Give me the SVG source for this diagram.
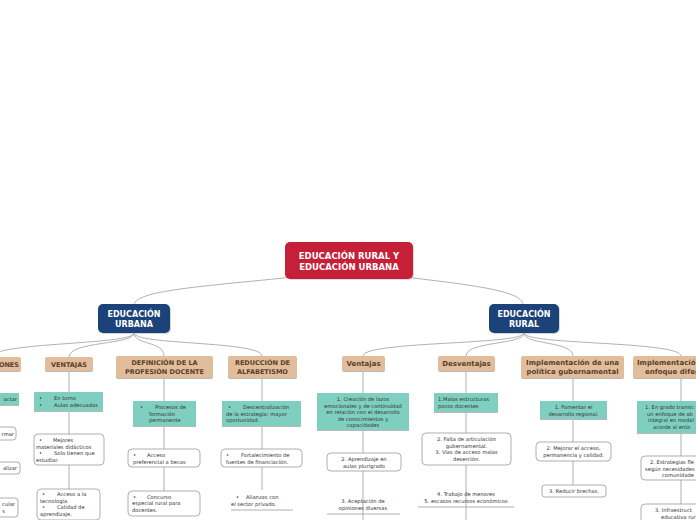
<svg xmlns="http://www.w3.org/2000/svg" width="696" height="520" viewBox="0 0 696 520">
<style>
text{font-family:"DejaVu Sans","Verdana",sans-serif;fill:#333}
.b{font-size:5.2px}
.c{text-anchor:middle}
.e{text-anchor:end}
.h{font-size:6.5px;font-weight:bold;fill:#5a3f2c}
.hl{font-size:7px;font-weight:bold;fill:#5a3f2c}
.w{font-weight:bold;fill:#fff}
.tan{fill:#e2bd9c}
.teal{fill:#7fcfc0}
.wb{fill:#fff;stroke:#999;stroke-width:0.8}
.sh{fill:#b9b9b9}
.ln{fill:none;stroke:#a8a8a8;stroke-width:0.9}
.ul{stroke:#999;stroke-width:0.8}
</style>
<rect width="696" height="520" fill="#fff"/>
<g id="connectors">
<path class="ln" d="M349,271 C220,286 136,288 134,305" stroke-width="1.6" stroke="#aaa"/>
<path class="ln" d="M349,271 C470,284 523,290 523,305" stroke-width="1.6" stroke="#aaa"/>
<path class="ln" d="M134,333 C134,345 -8,342 -8,357"/>
<path class="ln" d="M134,333 C134,345 69,341 69,357"/>
<path class="ln" d="M134,333 C134,345 164,341 164,356"/>
<path class="ln" d="M134,333 C134,345 262,341 262,356"/>
<path class="ln" d="M524,333 C524,345 363,341 363,356"/>
<path class="ln" d="M524,333 C524,345 466,341 466,356"/>
<path class="ln" d="M524,333 C524,345 573,341 573,356"/>
<path class="ln" d="M524,333 C524,345 681,341 681,356"/>
<path class="ln" d="M69,371 V489"/>
<path class="ln" d="M164,378 V491"/>
<path class="ln" d="M262,378 V490"/>
<path class="ln" d="M363,371 V520"/>
<path class="ln" d="M466,371 V520"/>
<path class="ln" d="M573,378 V485"/>
<path class="ln" d="M681,378 V504"/>
</g>
<g id="root">
<rect x="286" y="243" width="128" height="37" rx="5" class="sh" opacity="0.5"/>
<rect x="285" y="242" width="128" height="37" rx="5" fill="#c61f38"/>
<text class="w c" x="349" y="258.5" font-size="8.5">EDUCACIÓN RURAL Y</text>
<text class="w c" x="349" y="269.5" font-size="8.5">EDUCACIÓN URBANA</text>
</g>
<g id="urbana">
<rect x="99" y="305" width="72" height="29" rx="5" class="sh" opacity="0.6"/>
<rect x="98" y="304" width="72" height="29" rx="5" fill="#1b4279"/>
<text class="w c" x="134" y="316.5" font-size="8">EDUCACIÓN</text>
<text class="w c" x="134" y="327" font-size="8">URBANA</text>
</g>
<g id="rural">
<rect x="490" y="305" width="70" height="29" rx="5" class="sh" opacity="0.6"/>
<rect x="489" y="304" width="70" height="29" rx="5" fill="#1b4279"/>
<text class="w c" x="524" y="316.5" font-size="8">EDUCACIÓN</text>
<text class="w c" x="524" y="327" font-size="8">RURAL</text>
</g>
<g id="col-ones">
<rect x="-80" y="358" width="101" height="14" rx="2" class="sh"/>
<rect x="-80" y="357" width="101" height="14" rx="2" class="tan"/>
<text class="h e" x="19" y="366.5">ONES</text>
<rect x="-50" y="394" width="69" height="12" class="sh"/>
<rect x="-50" y="393" width="69" height="12" class="teal"/>
<text class="b e" x="17" y="401">actar</text>
<rect x="-50" y="427" width="66" height="13" rx="3" class="wb"/>
<text class="b e" x="14" y="435.5">rmar</text>
<rect x="-50" y="462" width="70" height="12" rx="3" class="wb"/>
<text class="b e" x="17" y="470">alizar</text>
<rect x="-50" y="498" width="68" height="19" rx="3" class="wb"/>
<text class="b e" x="15" y="506">cular</text>
<text class="b e" x="5" y="512.5">s</text>
</g>
<g id="col-ventajas-u">
<rect x="45" y="358" width="48" height="14" rx="2" class="sh"/>
<rect x="45" y="357" width="48" height="14" rx="2" class="tan"/>
<text class="h c" x="69" y="366.5">VENTAJAS</text>
<rect x="34" y="393" width="69" height="19" class="sh"/>
<rect x="34" y="392" width="69" height="19" class="teal"/>
<text class="b"><tspan x="39" y="400">•</tspan><tspan x="54" y="400">En torno</tspan><tspan x="39" y="406.5">•</tspan><tspan x="54" y="406.5">Aulas adecuadas</tspan></text>
<rect x="34" y="434" width="70" height="31" rx="4" class="wb"/>
<text class="b"><tspan x="39" y="442">•</tspan><tspan x="53" y="442">Mejores</tspan><tspan x="36" y="448.5">materiales didácticos</tspan><tspan x="39" y="455">•</tspan><tspan x="54" y="455">Solo tienen que</tspan><tspan x="36" y="461.5">estudiar.</tspan></text>
<rect x="37" y="489" width="63" height="31" rx="4" class="wb"/>
<text class="b"><tspan x="42" y="496">•</tspan><tspan x="57" y="496">Acceso a la</tspan><tspan x="40" y="502.5">tecnología</tspan><tspan x="42" y="509">•</tspan><tspan x="57" y="509">Calidad de</tspan><tspan x="40" y="515.5">aprendizaje.</tspan></text>
</g>
<g id="col-definicion">
<rect x="116" y="357" width="97" height="22" rx="2" class="sh"/>
<rect x="116" y="356" width="97" height="22" rx="2" class="tan"/>
<text class="h c" x="164.5" y="365">DEFINICIÓN DE LA</text>
<text class="h c" x="164.5" y="374">PROFESIÓN DOCENTE</text>
<rect x="133" y="402" width="63" height="25" class="sh"/>
<rect x="133" y="401" width="63" height="25" class="teal"/>
<text class="b"><tspan x="140" y="409">•</tspan><tspan x="155" y="409">Procesos de</tspan><tspan x="149" y="415.5">formación</tspan><tspan x="149" y="422">permanente</tspan></text>
<rect x="128" y="449" width="72" height="18" rx="4" class="wb"/>
<text class="b"><tspan x="133" y="457">•</tspan><tspan x="147" y="457">Acceso</tspan><tspan x="133" y="463.5">preferencial a becas</tspan></text>
<rect x="128" y="491" width="72" height="25" rx="4" class="wb"/>
<text class="b"><tspan x="133" y="498.5">•</tspan><tspan x="147" y="498.5">Concurso</tspan><tspan x="132" y="505">especial rural para</tspan><tspan x="132" y="511.5">docentes.</tspan></text>
</g>
<g id="col-reduccion">
<rect x="228" y="357" width="69" height="22" rx="2" class="sh"/>
<rect x="228" y="356" width="69" height="22" rx="2" class="tan"/>
<text class="h c" x="262.5" y="365">REDUCCIÓN DE</text>
<text class="h c" x="262.5" y="374">ALFABETISMO</text>
<rect x="222" y="402" width="79" height="25" class="sh"/>
<rect x="222" y="401" width="79" height="25" class="teal"/>
<text class="b"><tspan x="228" y="409">•</tspan><tspan x="243" y="409">Descentralización</tspan><tspan x="226" y="415.5">de la estrategia: mayor</tspan><tspan x="226" y="422">oportunidad.</tspan></text>
<rect x="221" y="449" width="81" height="18" rx="4" class="wb"/>
<text class="b"><tspan x="226" y="457">•</tspan><tspan x="241" y="457">Fortalecimiento de</tspan><tspan x="226" y="463.5">fuentes de financiación.</tspan></text>
<text class="b"><tspan x="236" y="499">•</tspan><tspan x="246" y="499">Alianzas con</tspan><tspan x="231" y="505.5">el sector privado.</tspan></text>
<line class="ul" x1="231" y1="510" x2="293" y2="510"/>
</g>
<g id="col-ventajas-r">
<rect x="342" y="357" width="43" height="15" rx="2" class="sh"/>
<rect x="342" y="356" width="43" height="15" rx="2" class="tan"/>
<text class="hl c" x="363.5" y="366">Ventajas</text>
<rect x="317" y="394" width="92" height="37" class="sh"/>
<rect x="317" y="393" width="92" height="37" class="teal"/>
<text class="b c"><tspan x="363" y="401">1. Creación de lazos</tspan><tspan x="363" y="407.5">emocionales y de continuidad</tspan><tspan x="363" y="414">en relación con el desarrollo</tspan><tspan x="363" y="420.5">de conocimientos y</tspan><tspan x="363" y="427">capacidades</tspan></text>
<rect x="327" y="453" width="74" height="18" rx="4" class="wb"/>
<text class="b c"><tspan x="364" y="461">2. Aprendizaje en</tspan><tspan x="364" y="467.5">aulas plurigrado</tspan></text>
<text class="b c"><tspan x="363" y="503">3. Aceptación de</tspan><tspan x="363" y="509.5">opiniones diversas</tspan></text>
<line class="ul" x1="327" y1="514" x2="400" y2="514"/>
</g>
<g id="col-desventajas">
<rect x="438" y="357" width="57" height="15" rx="2" class="sh"/>
<rect x="438" y="356" width="57" height="15" rx="2" class="tan"/>
<text class="hl c" x="466.5" y="366">Desventajas</text>
<rect x="434" y="394" width="64" height="19" class="sh"/>
<rect x="434" y="393" width="64" height="19" class="teal"/>
<text class="b"><tspan x="438" y="401">1.Malas estructuras</tspan><tspan x="438" y="407.5">pocos docentes</tspan></text>
<rect x="422" y="433" width="89" height="32" rx="4" class="wb"/>
<text class="b c"><tspan x="466.5" y="441">2. Falta de articulación</tspan><tspan x="466.5" y="447.5">gubernamental.</tspan><tspan x="466.5" y="454">3. Vías de acceso malas</tspan><tspan x="466.5" y="460.5">deserción.</tspan></text>
<text class="b c"><tspan x="466" y="496">4. Trabajo de menores</tspan><tspan x="466" y="502.5">5. escasos recursos económicos</tspan></text>
<line class="ul" x1="418" y1="507" x2="514" y2="507"/>
</g>
<g id="col-implementacion">
<rect x="521" y="357" width="103" height="22" rx="2" class="sh"/>
<rect x="521" y="356" width="103" height="22" rx="2" class="tan"/>
<text class="hl c" x="572.5" y="365">Implementación de una</text>
<text class="hl c" x="572.5" y="374">política gubernamental</text>
<rect x="540" y="402" width="67" height="18" class="sh"/>
<rect x="540" y="401" width="67" height="18" class="teal"/>
<text class="b c"><tspan x="573.5" y="409">1. Fomentar el</tspan><tspan x="573.5" y="415.5">desarrollo regional.</tspan></text>
<rect x="536" y="442" width="75" height="19" rx="4" class="wb"/>
<text class="b c"><tspan x="573.5" y="450">2. Mejorar el acceso,</tspan><tspan x="573.5" y="456.5">permanencia y calidad.</tspan></text>
<rect x="542" y="485" width="64" height="12" rx="3" class="wb"/>
<text class="b c" x="574" y="493">3. Reducir brechas.</text>
</g>
<g id="col-implementacion2">
<rect x="633" y="357" width="96" height="22" rx="2" class="sh"/>
<rect x="633" y="356" width="96" height="22" rx="2" class="tan"/>
<text class="hl" x="637" y="365">Implementació</text>
<text class="hl" x="645" y="374">enfoque difer</text>
<rect x="637" y="402" width="90" height="32" class="sh"/>
<rect x="637" y="401" width="90" height="32" class="teal"/>
<text class="b"><tspan x="645" y="409">1. En grado transic</tspan><tspan x="647" y="415.5">un enfoque de ab</tspan><tspan x="648" y="422">integral en modal</tspan><tspan x="653" y="428.5">acorde al ento</tspan></text>
<rect x="641" y="456" width="90" height="24" rx="4" class="wb"/>
<text class="b"><tspan x="650" y="464">2. Estrategias fle</tspan><tspan x="645" y="470.5">según necesidades</tspan><tspan x="662" y="477">comunidade</tspan></text>
<rect x="641" y="504" width="90" height="22" rx="4" class="wb"/>
<text class="b"><tspan x="655" y="512">3. Infraestruct</tspan><tspan x="661" y="518.5">educativa rur</tspan></text>
</g>
</svg>
